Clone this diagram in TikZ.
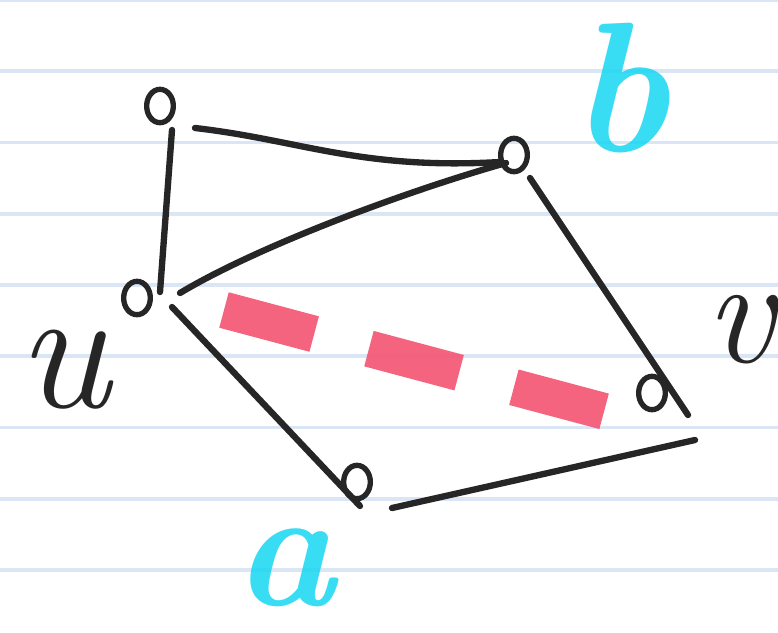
\documentclass[tikz,border=0pt]{standalone}
\usepackage{fontspec}
\usepackage{xcolor}
\definecolor{inkblack}{RGB}{38,38,38}
\definecolor{rulingblue}{RGB}{218,229,246}
\definecolor{markerred}{RGB}{243,84,112}
\definecolor{markercyan}{RGB}{22,214,242}
\usetikzlibrary{shapes.geometric}
\tikzset{
  vtx/.style={ellipse,draw=inkblack,line width=1.6mm,minimum width=8mm,
    minimum height=10mm,inner sep=0pt},
  edg/.style={draw=inkblack,line width=1.9mm,line cap=round},
  ruling/.style={draw=rulingblue,line width=1.1mm},
  cutline/.style={draw=markerred,opacity=0.9,line width=11mm,
    dash pattern=on 28mm off 17mm},
  inklabel/.style={text=inkblack,inner sep=0pt,
    font=\fontsize{150}{150}\selectfont\itshape},
  hilabel/.style={text=markercyan,opacity=0.85,inner sep=0pt,
    font=\fontsize{158}{158}\selectfont\bfseries\itshape},
}

\begin{document}
\begin{tikzpicture}[x=0.03cm,y=-0.03cm]
  % --- paper ---
  \fill[white] (0,0) rectangle (778,632);
  \useasboundingbox (0,0) rectangle (778,632);
  \foreach \k in {0,...,8}{\draw[ruling] (0,71.25*\k) -- (778,71.25*\k);}
  % --- vertices ---
  \node[vtx] (tl) at (160,106) {};
  \node[vtx] (tr) at (514,155) {};
  \node[vtx] (u)  at (137,298) {};
  \node[vtx] (v)  at (652,393) {};
  \node[vtx] (a)  at (357,482) {};
  % --- labels ---
  \node[inklabel] (ulab) at (64,370) {u};
  \node[inklabel,font=\fontsize{130}{130}\selectfont\itshape] (vlab) at (740,330) {v};
  \node[hilabel]  (blab) at (620,88)  {b};
  \node[hilabel,font=\fontsize{145}{145}\selectfont\bfseries\itshape] (alab) at (285,568) {a};
  % --- cut ---
  \coordinate (c1) at (224,310);
  \coordinate (c2) at (618,415);
  \draw[cutline] (c1) -- (c2);
  % --- edges ---
  \draw[edg] ([shift={(35,22)}]tl.center) .. controls (300,140) and (360,170)
    .. ([shift={(-14,7)}]tr.center);
  \draw[edg] ([shift={(12,24)}]tl.center) -- ([shift={(23,-6)}]u.center);
  \draw[edg] ([shift={(43,-5)}]u.center) .. controls (260,245) and (410,190)
    .. ([shift={(-8,8)}]tr.center);
  \draw[edg] ([shift={(16,23)}]tr.center) -- ([shift={(36,22)}]v.center);
  \draw[edg] ([shift={(35,9)}]u.center) -- ([shift={(3,24)}]a.center);
  \draw[edg] ([shift={(35,26)}]a.center) -- ([shift={(43,47)}]v.center);
\end{tikzpicture}
\end{document}
